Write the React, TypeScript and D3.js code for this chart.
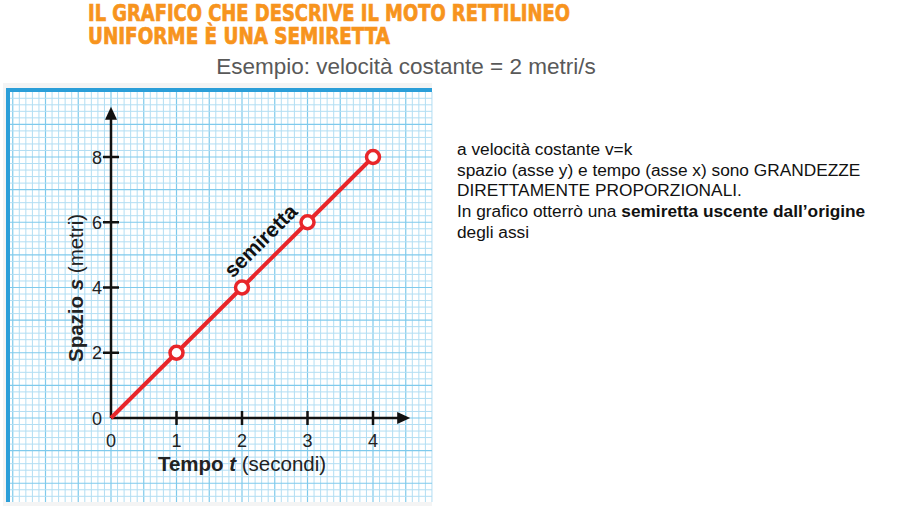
import React from "react";
import * as d3 from "d3";

const timeValues = [0, 1, 2, 3, 4];
const spaceValues = [0, 2, 4, 6, 8];
const xTicks = [0, 1, 2, 3, 4];
const yTicks = [0, 2, 4, 6, 8];
const titleLines = ["IL GRAFICO CHE DESCRIVE IL MOTO RETTILINEO", "UNIFORME È UNA SEMIRETTA"];
const subtitle = "Esempio: velocità costante = 2 metri/s";

const W = 900;
const H = 506;

export default function App() {
  const x = d3.scaleLinear().domain([0, 4]).range([111, 373]);
  const y = d3.scaleLinear().domain([0, 8]).range([418, 157]);

  const panel = { x0: 10, x1: 432, y0: 92, y1: 502 };
  const gx = d3.range(Math.ceil(x.invert(panel.x0) * 10), Math.floor(x.invert(panel.x1) * 10) + 1).map((i) => i / 10);
  const gy = d3.range(Math.ceil(y.invert(panel.y1) * 5), Math.floor(y.invert(panel.y0) * 5) + 1).map((i) => i / 5);

  const pts = timeValues.map((t, i) => [t, spaceValues[i]] as [number, number]);
  const line = d3.line<[number, number]>().x((d) => x(d[0])).y((d) => y(d[1]));

  const angle = (Math.atan2(y(8) - y(0), x(4) - x(0)) * 180) / Math.PI;
  const midT = 2.5;
  const lx = x(midT) - 9;
  const ly = y(midT * 2) - 9;

  const font = "Liberation Sans, Arial, Helvetica, sans-serif";

  return (
    <div style={{ position: "absolute", left: 0, top: 0, width: W, height: H, background: "#fff" }}>
      <svg width={W} height={H} style={{ display: "block" }} fontFamily={font}>
        <rect x={0} y={0} width={W} height={H} fill="#fff" />
        {/* title */}
        <text fill="#F7941D" stroke="#F7941D" strokeWidth={0.7} fontWeight="bold" fontFamily="'DejaVu Sans Condensed', 'Liberation Sans Narrow', 'DejaVu Sans', sans-serif" fontSize={22.5}>
          <tspan x={88} y={21} textLength={482} lengthAdjust="spacingAndGlyphs">{titleLines[0]}</tspan>
          <tspan x={88} y={43.5} textLength={302} lengthAdjust="spacingAndGlyphs">{titleLines[1]}</tspan>
        </text>
        <text x={406} y={74} textAnchor="middle" fontSize={22.5} fill="#595959">{subtitle}</text>

        {/* panel */}
        <rect x={3} y={83} width={panel.x1 - 3} height={H - 83} fill="#f4f4f4" />
        <rect x={panel.x0 - 4} y={panel.y0 - 4} width={panel.x1 - panel.x0 + 4} height={panel.y1 - panel.y0 + 4} fill="#2b9ed8" />
        <rect x={panel.x0} y={panel.y0} width={panel.x1 - panel.x0} height={panel.y1 - panel.y0} fill="#ffffff" />
        <g>
          {gx.map((v, i) => {
            const major = Math.round(v * 10) % 5 === 0;
            return (
              <line key={"gx" + i} x1={x(v)} x2={x(v)} y1={panel.y0} y2={panel.y1}
                stroke={major ? "#7fcaec" : "#b2def3"} strokeWidth={major ? 1.2 : 1} />
            );
          })}
          {gy.map((v, i) => {
            const major = Math.round(v * 5) % 5 === 0;
            return (
              <line key={"gy" + i} x1={panel.x0} x2={panel.x1} y1={y(v)} y2={y(v)}
                stroke={major ? "#7fcaec" : "#b2def3"} strokeWidth={major ? 1.2 : 1} />
            );
          })}
        </g>

        {/* axes */}
        <g stroke="#111" strokeWidth={2.5} fill="none">
          <line x1={x(0)} x2={x(0)} y1={y(0)} y2={y(9.2)} />
          <line x1={x(0)} x2={x(4.4)} y1={y(0)} y2={y(0)} />
          {yTicks.filter((v) => v > 0).map((v) => (
            <line key={"yt" + v} x1={x(0) - 8} x2={x(0) + 8} y1={y(v)} y2={y(v)} />
          ))}
          {xTicks.filter((v) => v > 0).map((v) => (
            <line key={"xt" + v} x1={x(v)} x2={x(v)} y1={y(0) - 7} y2={y(0) + 7} />
          ))}
        </g>
        <path d={`M${x(0)},${y(9.2) - 11} l-6,13 l12,0 z`} fill="#111" />
        <path d={`M${x(4.4) + 11},${y(0)} l-13,-6 l0,12 z`} fill="#111" />

        {/* tick labels */}
        <g fontSize={18} fill="#222">
          {yTicks.map((v) => (
            <text key={"yl" + v} x={x(0) - 9} y={y(v) + 6.5} textAnchor="end">{v}</text>
          ))}
          {xTicks.map((v) => (
            <text key={"xl" + v} x={x(v)} y={y(0) + 29} textAnchor="middle">{v}</text>
          ))}
        </g>

        {/* axis titles */}
        <text x={242} y={471} textAnchor="middle" fontSize={20.5} fill="#222">
          <tspan fontWeight="bold">Tempo </tspan>
          <tspan fontWeight="bold" fontStyle="italic">t</tspan>
          <tspan> (secondi)</tspan>
        </text>
        <text transform={`translate(83,288) rotate(-90)`} textAnchor="middle" fontSize={20.5} fill="#222">
          <tspan fontWeight="bold">Spazio </tspan>
          <tspan fontWeight="bold" fontStyle="italic">s</tspan>
          <tspan> (metri)</tspan>
        </text>

        {/* data */}
        <path d={line(pts) || ""} stroke="#e8262a" strokeWidth={4} fill="none" />
        {pts.filter((p) => p[0] > 0).map((p, i) => (
          <circle key={"pt" + i} cx={x(p[0])} cy={y(p[1])} r={6.5} fill="#fff" stroke="#e8262a" strokeWidth={3.5} />
        ))}
        <text transform={`translate(${lx},${ly}) rotate(${angle})`} textAnchor="middle" fontSize={21} fontWeight="bold" fill="#111">semiretta</text>

        {/* right text */}
        <g fontSize={17.3} fill="#111">
          <text x={457} y={155}>a velocità costante v=k</text>
          <text x={457} y={176}>spazio (asse y) e tempo (asse x) sono GRANDEZZE</text>
          <text x={457} y={196}>DIRETTAMENTE PROPORZIONALI.</text>
          <text x={457} y={217}>
            In grafico otterrò una <tspan fontWeight="bold">semiretta uscente dall’origine</tspan>
          </text>
          <text x={457} y={238}>degli assi</text>
        </g>
      </svg>
    </div>
  );
}
